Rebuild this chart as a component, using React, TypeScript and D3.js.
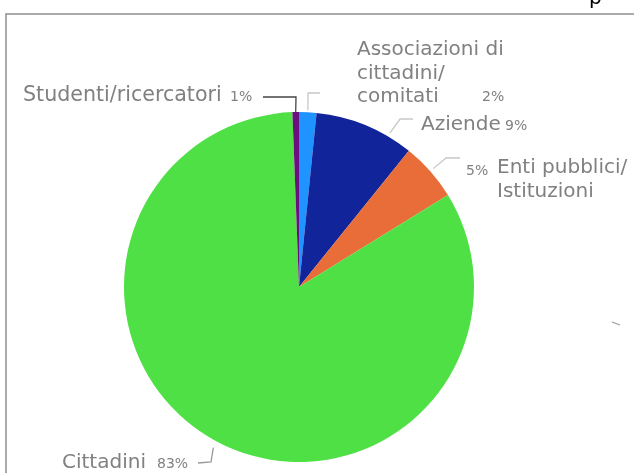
import * as d3 from "d3";
import React from "react";

// slices, clockwise from 12 o'clock
const categories = [
  "Associazioni di cittadini/comitati",
  "Aziende",
  "Enti pubblici/Istituzioni",
  "Cittadini",
  "Studenti/ricercatori",
];
const shares = [1.6, 9.2, 5.4, 83.2, 0.6];
const colors = ["#1f93ff", "#12249a", "#e86d38", "#4fe046", "#6b0f7f"];

// how each label is laid out (name lines, where the text sits, leader path)
const labelLayout = [
  { lines: ["Associazioni di", "cittadini/", "comitati"], x: 357, y: 55, size: 20, pctX: 482, pctY: 101, at: 0.5, rOff: 2, elbow: [[308, 93], [320, 93]], stroke: "#c8c8c8" },
  { lines: ["Aziende"], x: 421, y: 130, size: 20, pctX: 505, pctY: 130, at: 0.75, rOff: 4, elbow: [[400, 119], [413, 119]], stroke: "#c8c8c8" },
  { lines: ["Enti pubblici/", "Istituzioni"], x: 497, y: 173, size: 20, pctX: 466, pctY: 175, at: 0.5, rOff: 4, elbow: [[446, 158], [460, 158]], stroke: "#c8c8c8" },
  { lines: ["Cittadini"], x: 62, y: 468, size: 20, pctX: 157, pctY: 468, at: 0.5, rOff: 7, elbow: [[211, 462], [198, 463]], stroke: "#999" },
  { lines: ["Studenti/ricercatori"], x: 23, y: 101, size: 20.6, pctX: 230, pctY: 101, at: 0.5, rOff: 0, elbow: [[296, 97], [263, 97]], stroke: "#444" },
];

const width = 634;
const height = 473;
const cx = 299;
const cy = 287;
const radius = 175;

export default function App() {
  const pie = d3.pie<number>().sort(null).value(d => d);
  const arcs = pie(shares);
  const arcGen = d3.arc<d3.PieArcDatum<number>>().innerRadius(0).outerRadius(radius);
  const line = d3.line();

  return (
    <div style={{ position: "fixed", left: 0, top: 0 }}>
      <svg width={width} height={height} style={{ display: "block" }}>
        <rect x={6} y={14} width={width + 10} height={height + 10} fill="white" stroke="#8f8f8f" strokeWidth={1.5} />
        <text x={589} y={4} fontFamily="DejaVu Sans" fontSize={20} fill="#000">p</text>

        <g transform={`translate(${cx}, ${cy})`}>
          {arcs.map((a, i) => (
            <path key={categories[i]} d={arcGen(a) ?? ""} fill={colors[i]} />
          ))}
        </g>

        {arcs.map((a, i) => {
          const lay = labelLayout[i];
          const ang = a.startAngle + (a.endAngle - a.startAngle) * lay.at;
          const r = radius + lay.rOff;
          const start: [number, number] = [cx + r * Math.sin(ang), cy - r * Math.cos(ang)];
          const pts = [start, ...(lay.elbow as [number, number][])];
          return (
            <g key={categories[i]} fontFamily="DejaVu Sans">
              <path d={line(pts) ?? ""} fill="none" stroke={lay.stroke} strokeWidth={1.3} />
              <text x={lay.x} y={lay.y} fontSize={lay.size} fill="#808080">
                {lay.lines.map((l, j) => (
                  <tspan key={j} x={lay.x} dy={j === 0 ? 0 : 23.5}>{l}</tspan>
                ))}
              </text>
              <text x={lay.pctX} y={lay.pctY} fontSize={14} fill="#808080">
                {`${Math.round(a.data)}%`}
              </text>
            </g>
          );
        })}

        <path d={line([[612, 322], [620, 325]]) ?? ""} stroke="#999" strokeWidth={1.2} fill="none" />
      </svg>
    </div>
  );
}
